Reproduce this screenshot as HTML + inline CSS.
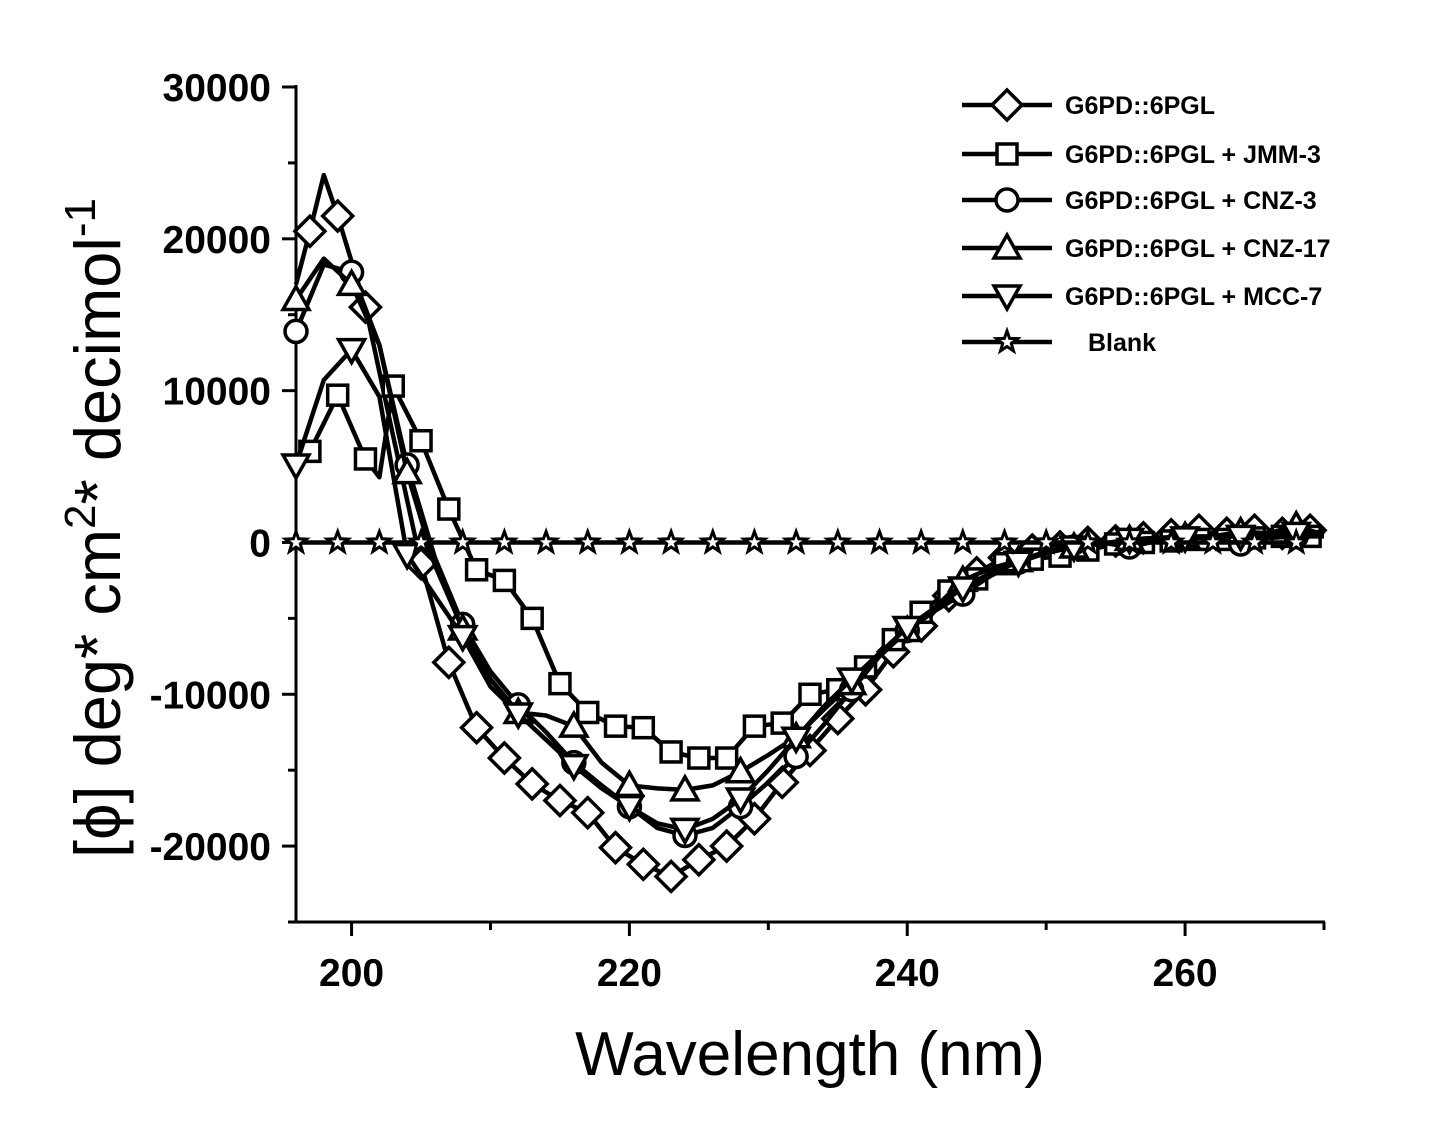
<!DOCTYPE html>
<html><head><meta charset="utf-8"><style>
html,body{margin:0;padding:0;background:#fff;}
svg{display:block;font-family:"Liberation Sans",Arial,sans-serif;}
</style></head><body>
<svg id="chart" width="1430" height="1125" viewBox="0 0 1430 1125" xmlns="http://www.w3.org/2000/svg">
<g id="axes"></g>
<g id="series"></g>
<g id="legend"></g>
<text x="810" y="1075" font-size="62" text-anchor="middle">Wavelength (nm)</text>
<text transform="translate(120,528) rotate(-90)" font-size="65" text-anchor="middle">[ϕ] deg* cm<tspan font-size="44" dy="-25">2</tspan><tspan dy="25">* decimol</tspan><tspan font-size="44" dy="-25">-1</tspan></text>
</svg>
<script>
const xTicks=[200,220,240,260];
const xMinor=[210,230,250,270];
const yTicks=[30000,20000,10000,0,-10000,-20000];
const yMinor=[25000,15000,5000,-5000,-15000,-25000];
const names=["G6PD::6PGL","G6PD::6PGL + JMM-3","G6PD::6PGL + CNZ-3","G6PD::6PGL + CNZ-17","G6PD::6PGL + MCC-7","Blank"];
const diamondX=[196,197,198,199,201,203,205,207,209,211,213,215,217,219,221,223,225,227,229,231,233,235,237,239,241,243,245,247,249,251,253,255,257,259,261,263,265,267,269];
const diamondY=[17000,20500,24200,21500,15500,7000,-1400,-7900,-12200,-14200,-15900,-17000,-17800,-20100,-21200,-22000,-20900,-20000,-18200,-15800,-13700,-11600,-9700,-7200,-5500,-3500,-2000,-1000,-500,-300,0,100,300,500,800,600,800,600,800];
const squareX=[196,197,199,201,202,203,205,207,209,211,213,215,217,219,221,223,225,227,229,231,233,235,237,239,241,243,245,247,249,251,253,255,257,259,261,263,265,267,269];
const squareY=[4800,6000,9700,5500,4300,10300,6700,2200,-1800,-2500,-5000,-9300,-11200,-12100,-12200,-13800,-14200,-14200,-12100,-11900,-10000,-9700,-8200,-6400,-4600,-3200,-2400,-1400,-1100,-900,-500,-100,0,100,200,200,300,400,400];
const evenX=[196,198,200,202,204,206,208,210,212,214,216,218,220,222,224,226,228,230,232,234,236,238,240,242,244,246,248,250,252,254,256,258,260,262,264,266,268,270];
const circleY=[13900,18300,17800,13000,5100,-1000,-5400,-8500,-10700,-12500,-14500,-16000,-17400,-18800,-19300,-18800,-17400,-15800,-14100,-12000,-9700,-7500,-5800,-4500,-3400,-2200,-1300,-700,-300,0,-300,100,300,300,-100,300,400,400];
const triUpY=[16000,18700,17000,13000,4600,-1500,-5700,-9000,-11200,-11400,-12100,-14500,-16000,-16200,-16300,-16000,-15100,-14000,-12800,-11000,-9300,-7500,-5800,-4300,-2500,-1700,-1200,-600,-300,-100,200,300,400,400,700,600,1100,500];
const triDownY=[5100,10700,12700,9600,-800,-3500,-6200,-9500,-11300,-13000,-14700,-16200,-17400,-18500,-18900,-18200,-16900,-15000,-12900,-10800,-9000,-7300,-5600,-4300,-3000,-2000,-1300,-600,-300,-100,200,300,300,400,400,500,600,700];
const blankX=[196,199,202,205,208,211,214,217,220,223,226,229,232,235,238,241,244,247,250,253,256,259,262,265,268];
const blankY=[0,0,0,0,0,0,0,0,0,0,0,0,0,0,0,0,0,0,0,0,0,0,0,0,0];

const X0=196,X1=270,PX0=296,PX1=1324;
const Y0=-25000,Y1=30000,PY0=922,PY1=87;
const sx=v=>PX0+(v-X0)/(X1-X0)*(PX1-PX0);
const sy=v=>PY0+(v-Y0)/(Y1-Y0)*(PY1-PY0);
const NS="http://www.w3.org/2000/svg";
function mk(tag,attrs,parent){const e=document.createElementNS(NS,tag);for(const k in attrs)e.setAttribute(k,attrs[k]);parent.appendChild(e);return e;}
const axes=document.getElementById('axes');
let a=mk('line',{x1:PX0,y1:PY1-2,x2:PX0,y2:PY0+1,stroke:'#000','stroke-width':3},axes);


a=mk('line',{x1:PX0-1,y1:PY0,x2:PX1+1,y2:PY0,stroke:'#000','stroke-width':3},axes);


xTicks.forEach(v=>{
 const t=mk('line',{x1:sx(v),y1:PY0,x2:sx(v),y2:PY0+14,stroke:'#000','stroke-width':3},axes);
 
 
 const l=mk('text',{x:sx(v),y:986,'font-size':39,'font-weight':'bold','text-anchor':'middle'},axes);
 l.textContent=v;
 
 
});
xMinor.forEach(v=>{
 const t=mk('line',{x1:sx(v),y1:PY0,x2:sx(v),y2:PY0+8,stroke:'#000','stroke-width':3},axes);
 
 
});
yTicks.forEach(v=>{
 const t=mk('line',{x1:PX0-14,y1:sy(v),x2:PX0,y2:sy(v),stroke:'#000','stroke-width':3},axes);
 
 
 const l=mk('text',{x:271,y:sy(v)+14,'font-size':39,'font-weight':'bold','text-anchor':'end'},axes);
 l.textContent=v;
 
 
});
yMinor.forEach(v=>{
 const t=mk('line',{x1:PX0-8,y1:sy(v),x2:PX0,y2:sy(v),stroke:'#000','stroke-width':3},axes);
 
 
});
function marker(type,cx,cy,parent){
 const st={fill:'#fff',stroke:'#000','stroke-width':3.5};
 let e;
 if(type==='diamond'){e=mk('polygon',Object.assign({points:`${cx},${cy-15} ${cx+15},${cy} ${cx},${cy+15} ${cx-15},${cy}`},st),parent);}
 else if(type==='square'){e=mk('rect',Object.assign({x:cx-10,y:cy-10,width:20,height:20},st),parent);}
 else if(type==='circle'){e=mk('circle',Object.assign({cx:cx,cy:cy,r:11},st),parent);}
 else if(type==='up'){e=mk('polygon',Object.assign({points:`${cx},${cy-13} ${cx+13},${cy+10} ${cx-13},${cy+10}`},st),parent);}
 else if(type==='down'){e=mk('polygon',Object.assign({points:`${cx},${cy+13} ${cx+13},${cy-10} ${cx-13},${cy-10}`},st),parent);}
 else {let p=[];for(let i=0;i<10;i++){const r=i%2?4.5:11;const an=-Math.PI/2+i*Math.PI/5;p.push((cx+r*Math.cos(an)).toFixed(1)+','+(cy+r*Math.sin(an)).toFixed(1));}
  e=mk('polygon',{points:p.join(' '),fill:'#fff',stroke:'#000','stroke-width':3},parent);}
 return e;
}
const seriesDefs=[
 {xs:diamondX,ys:diamondY,type:'diamond',step:1,skip:[196,198,203],name:'series-g6pd-6pgl'},
 {xs:squareX,ys:squareY,type:'square',step:1,skip:[196,202],name:'series-jmm-3'},
 {xs:evenX,ys:circleY,type:'circle',step:2,skip:[],name:'series-cnz-3'},
 {xs:evenX,ys:triUpY,type:'up',step:2,skip:[],name:'series-cnz-17'},
 {xs:evenX,ys:triDownY,type:'down',step:2,skip:[],name:'series-mcc-7'},
 {xs:blankX,ys:blankY,type:'star',step:1,skip:[],name:'series-blank'}
];
const sg=document.getElementById('series');
seriesDefs.forEach(s=>{
 const g=mk('g',{},sg);
 
 
 const pts=s.xs.map((x,i)=>sx(x).toFixed(1)+','+sy(s.ys[i]).toFixed(1)).join(' ');
 const pl=mk('polyline',{points:pts,fill:'none',stroke:'#000','stroke-width':4.5,'stroke-linejoin':'round'},g);
 
 
 s.xs.forEach((x,i)=>{
  if(i%s.step!==0)return;
  if(s.skip.indexOf(x)>=0)return;
  const m=marker(s.type,sx(x),sy(s.ys[i]),g);
  
  
 });
});
const lg=document.getElementById('legend');
const types=['diamond','square','circle','up','down','star'];
const lys=[105,154,200,248,296,342];
names.forEach((n,i)=>{
 const g=mk('g',{},lg);
 
 
 mk('line',{x1:962,y1:lys[i],x2:1052,y2:lys[i],stroke:'#000','stroke-width':4.5},g);
 marker(types[i],1007,lys[i],g);
 const t=mk('text',{x:i===5?1088:1065,y:lys[i]+9,'font-size':25,'font-weight':'bold'},g);
 t.textContent=n;
 
 
});
</script>
</body></html>
